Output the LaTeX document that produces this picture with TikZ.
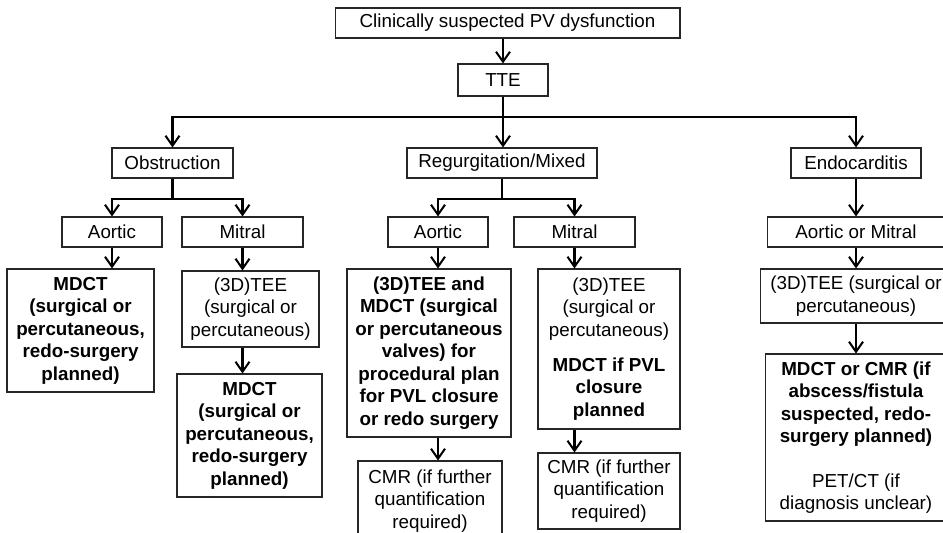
\documentclass[tikz,border=0pt]{standalone}
\usepackage{fontspec}
\setmainfont{Liberation Sans}
\usetikzlibrary{arrows.meta,positioning,calc}
\newcommand{\branch}[3]
{
	\draw[arr] (#1.south) -- ++(0,#3) -| (#2.north)
}

\begin{document}
\begin{tikzpicture}[x=0.02cm, y=-0.02cm,
			box/.append style={shape=rectangle,
				draw=black!85,
				line width=0.6pt,
				align=center,
				inner sep=1pt,
				font=\fontsize{10.7}{12.8}\selectfont},
			arr/.style={-{Straight Barb[length=2mm,width=2.8mm]},
				line width=1.15pt}]
			\useasboundingbox (0, 0) rectangle (943, 533);
			
			\node[box, minimum width=6.9cm, minimum height=0.6cm] at (507.5, 23) (top){Clinically suspected PV dysfunction};
			\node[box, minimum width=1.8cm, minimum height=0.64cm] at (503, 80) (tte){TTE};
			
			\node[box, minimum width=2.42cm, minimum height=0.6cm] at (172.5, 163) (obs){Obstruction};
			\node[box, minimum width=3.8cm, minimum height=0.6cm] at (502, 163) (reg){Regurgitation/Mixed};
			\node[box, minimum width=2.6cm, minimum height=0.6cm] at (856, 163) (endo){Endocarditis};
			
			\node[box, minimum width=2cm, minimum height=0.6cm] at (112, 232) (oao){Aortic};
			\node[box, minimum width=2.42cm, minimum height=0.6cm] at (242.5, 232) (omi){Mitral};
			\node[box, minimum width=2cm, minimum height=0.6cm] at (438, 232) (rao){Aortic};
			\node[box, minimum width=2.42cm, minimum height=0.6cm] at (574.5, 232) (rmi){Mitral};
			\node[box, minimum width=3.56cm, minimum height=0.6cm] at (856, 232) (eam){Aortic or Mitral};
			
			\node[box, minimum width=2.94cm, minimum height=2.46cm] at (80.5, 330.5) (omdct){\textbf{MDCT}\\\textbf{(surgical or}\\\textbf{percutaneous,}\\\textbf{redo-surgery}\\\textbf{planned)}};
			\node[box, minimum width=2.74cm, minimum height=1.52cm] at (250.5, 309) (otee){(3D)TEE\\(surgical or\\percutaneous)};
			\node[box, minimum width=2.9cm, minimum height=2.46cm] at (249.5, 435.5) (omdctb){\textbf{MDCT}\\\textbf{(surgical or}\\\textbf{percutaneous,}\\\textbf{redo-surgery}\\\textbf{planned)}};
			
			\node[box, minimum width=3.28cm, minimum height=3.36cm] at (429, 353) (rplan){\textbf{(3D)TEE and}\\\textbf{MDCT (surgical}\\\textbf{or percutaneous}\\\textbf{valves) for}\\\textbf{procedural plan}\\\textbf{for PVL closure}\\\textbf{or redo surgery}};
			\node[box, minimum width=2.88cm, minimum height=1.6cm] at (430, 501) (rcmr){CMR (if further\\quantification\\required)};
			\node[box, minimum width=2.84cm, minimum height=3.2cm] at (609, 349) (rtee){(3D)TEE\\(surgical or\\percutaneous)\\[7pt]\textbf{MDCT if PVL}\\\textbf{closure}\\\textbf{planned}};
			\node[box, minimum width=2.84cm, minimum height=1.52cm] at (609, 491) (rcmrb){CMR (if further\\quantification\\required)};
			
			\node[box, minimum width=3.84cm, minimum height=1.08cm] at (856, 296) (etee){(3D)TEE (surgical or\\percutaneous)};
			\node[box, minimum width=3.64cm, minimum height=3.34cm] at (856, 437.5) (emdct){\textbf{MDCT or CMR (if}\\\textbf{abscess/fistula}\\\textbf{suspected, redo-}\\\textbf{surgery planned)}\\[12.5pt]PET/CT (if\\diagnosis unclear)};
			
			\draw[arr] (top.south -| tte.north) -- (tte.north);
			\branch{tte}{obs}{20};
			\branch{tte}{endo}{20};
			\draw[arr] (tte.south) -- (tte.south |- reg.north);
			
			\branch{obs}{oao}{20};
			\branch{obs}{omi}{20};
			\branch{reg}{rao}{20};
			\branch{reg}{rmi}{20};
			\draw[arr] (endo.south) -- (eam.north);
			
			\draw[arr] (oao.south) -- (oao.south |- omdct.north);
			\draw[arr] (omi.south) -- (omi.south |- otee.north);
			\draw[arr] (otee.south -| omi) -- (omdctb.north -| omi);
			\draw[arr] (rao.south) -- (rao.south |- rplan.north);
			\draw[arr] (rplan.south -| rao) -- (rcmr.north -| rao);
			\draw[arr] (rmi.south) -- (rmi.south |- rtee.north);
			\draw[arr] (rtee.south -| rmi) -- (rcmrb.north -| rmi);
			\draw[arr] (eam.south) -- (etee.north);
			\draw[arr] (etee.south) -- (emdct.north);
		\end{tikzpicture}
\end{document}
